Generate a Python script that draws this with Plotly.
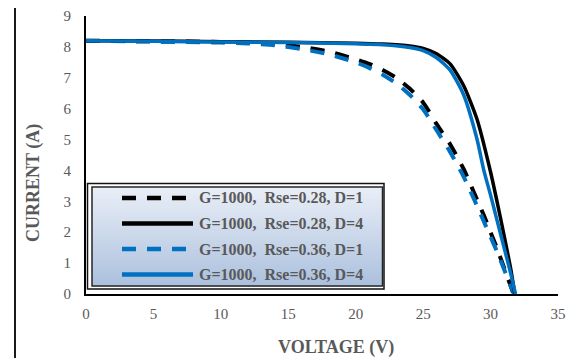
import plotly.graph_objects as go

# ---------------- data ----------------
series_names = [
    "G=1000,\u00a0\u00a0Rse=0.28, D=1",
    "G=1000,\u00a0\u00a0Rse=0.28, D=4",
    "G=1000,\u00a0\u00a0Rse=0.36, D=1",
    "G=1000,\u00a0\u00a0Rse=0.36, D=4",
]

v_028_d1 = [0, 5, 10, 12, 14, 16, 18, 20, 21, 22, 23, 24, 25, 26, 27, 28, 29, 29.5, 30, 30.5, 31, 31.5, 31.7]
i_028_d1 = [8.20, 8.18, 8.16, 8.14, 8.10, 8.00, 7.85, 7.60, 7.45, 7.25, 7.00, 6.65, 6.20, 5.50, 4.85, 4.05, 3.05, 2.55, 2.00, 1.45, 0.85, 0.25, 0]

v_028_d4 = [0, 5, 10, 15, 20, 22, 24, 25, 26, 27, 28, 29, 30, 30.5, 31, 31.5, 31.8]
i_028_d4 = [8.20, 8.19, 8.17, 8.15, 8.12, 8.09, 8.03, 7.95, 7.78, 7.45, 6.75, 5.65, 3.95, 2.95, 1.90, 0.80, 0]

v_036_d1 = [0, 5, 10, 12, 14, 16, 18, 20, 21, 22, 23, 24, 25, 26, 27, 28, 29, 29.5, 30, 30.5, 31, 31.5, 31.75]
i_036_d1 = [8.20, 8.17, 8.14, 8.11, 8.05, 7.93, 7.76, 7.50, 7.32, 7.10, 6.82, 6.45, 5.98, 5.30, 4.60, 3.80, 2.85, 2.35, 1.85, 1.35, 0.80, 0.25, 0]

v_036_d4 = [0, 5, 10, 15, 20, 22, 24, 25, 26, 27, 28, 29, 29.5, 30, 30.5, 31, 31.5, 31.85]
i_036_d4 = [8.20, 8.18, 8.16, 8.14, 8.10, 8.07, 7.98, 7.88, 7.65, 7.25, 6.45, 5.00, 4.00, 3.20, 2.35, 1.50, 0.65, 0]

x_ticks = [0, 5, 10, 15, 20, 25, 30, 35]
y_ticks = [0, 1, 2, 3, 4, 5, 6, 7, 8, 9]
x_title = "VOLTAGE (V)"
y_title = "CURRENT (A)"

# ---------------- styling ----------------
OFF = 8  # page body margin offset in the browser
W, H = 581 - OFF, 358 - OFF
# reference pixel geometry of plot area
RX0, RX1, RY0, RY1 = 86, 558, 16, 294
L, T = RX0 - OFF, RY0 - OFF
R, B = W - (RX1 - OFF), H - (RY1 - OFF)
PW, PH = W - L - R, H - T - B
GRAY = "#595959"
SERIF = "Liberation Serif, Times New Roman, serif"
BLACK = "#000000"
BLUE = "#0070c0"
DASH = "14px,11px"


def px(xp):
    return (xp - RX0) / PW


def py(yp):
    return (RY1 - yp) / PH


styles = [
    dict(color=BLACK, width=4, dash=DASH),
    dict(color=BLACK, width=3.5, dash="solid"),
    dict(color=BLUE, width=4, dash=DASH),
    dict(color=BLUE, width=3.5, dash="solid"),
]
order = [0, 2, 1, 3]
xs = [v_028_d1, v_028_d4, v_036_d1, v_036_d4]
ys = [i_028_d1, i_028_d4, i_036_d1, i_036_d4]

fig = go.Figure()
for k in order:
    fig.add_trace(go.Scatter(
        x=xs[k], y=ys[k], mode="lines", name=series_names[k],
        line=dict(shape="spline", smoothing=0.6, **styles[k]),
        showlegend=False,
    ))

shapes = []
# outer chart frame (cropped on right/bottom)
shapes.append(dict(type="rect", xref="paper", yref="paper",
                   x0=px(15), x1=px(700), y0=py(420), y1=py(7),
                   line=dict(color="#1a1a1a", width=2), fillcolor="rgba(0,0,0,0)", layer="below"))

# legend box: outer thin frame
shapes.append(dict(type="rect", xref="paper", yref="paper",
                   x0=px(87.5), x1=px(384), y0=py(289), y1=py(183.5),
                   line=dict(color="#111111", width=1.5), fillcolor="white", layer="above"))
# gradient fill
top_c = (233, 238, 247)
bot_c = (172, 193, 222)
y_top, y_bot = 187, 286
n = 33
step = (y_bot - y_top) / n
for s in range(n):
    t = s / (n - 1)
    c = tuple(int(round(top_c[j] + (bot_c[j] - top_c[j]) * t)) for j in range(3))
    shapes.append(dict(type="rect", xref="paper", yref="paper",
                       x0=px(92), x1=px(382.5),
                       y0=py(y_top + (s + 1) * step + 0.6), y1=py(y_top + s * step),
                       line=dict(width=0), fillcolor="rgb(%d,%d,%d)" % c, layer="above"))
shapes.append(dict(type="rect", xref="paper", yref="paper",
                   x0=px(92), x1=px(382.5), y0=py(286), y1=py(187),
                   line=dict(color="#262626", width=1.5), fillcolor="rgba(0,0,0,0)", layer="above"))

annotations = []
row_y = [198, 223.5, 249, 274.5]
for k in range(4):
    st = styles[k]
    shapes.append(dict(type="line", xref="paper", yref="paper",
                       x0=px(122), x1=px(193), y0=py(row_y[k]), y1=py(row_y[k]),
                       line=dict(color=st["color"], width=4.5,
                                 dash=("14px,11px" if st["dash"] != "solid" else "solid")),
                       layer="above"))
    annotations.append(dict(xref="paper", yref="paper", x=px(197), y=py(row_y[k]),
                            xanchor="left", yanchor="middle", showarrow=False,
                            text="<b>%s</b>" % series_names[k],
                            font=dict(family=SERIF, size=16, color=GRAY)))

annotations.append(dict(xref="paper", yref="paper", x=px(336), y=py(347),
                        xanchor="center", yanchor="middle", showarrow=False,
                        text="<b>%s</b>" % x_title,
                        font=dict(family=SERIF, size=18, color=GRAY)))
annotations.append(dict(xref="paper", yref="paper", x=px(33), y=py(183),
                        xanchor="center", yanchor="middle", showarrow=False, textangle=-90,
                        text="<b>%s</b>" % y_title,
                        font=dict(family=SERIF, size=18, color=GRAY)))

fig.update_layout(
    width=W, height=H,
    margin=dict(l=L, r=R, t=T, b=B, autoexpand=False),
    paper_bgcolor="white", plot_bgcolor="white",
    showlegend=False,
    shapes=shapes, annotations=annotations,
    xaxis=dict(range=[0, 35], tickvals=x_ticks, ticktext=[str(v) for v in x_ticks],
               showgrid=False, zeroline=False, showline=True, linecolor=BLACK, linewidth=2,
               ticks="", ticklabelstandoff=5,
               tickfont=dict(family=SERIF, size=15, color=GRAY)),
    yaxis=dict(range=[0, 9], tickvals=y_ticks, ticktext=[str(v) for v in y_ticks],
               showgrid=False, zeroline=False, showline=True, linecolor=BLACK, linewidth=2,
               ticks="", ticklabelstandoff=10,
               tickfont=dict(family=SERIF, size=15, color=GRAY)),
)

fig.write_html("out.html")
